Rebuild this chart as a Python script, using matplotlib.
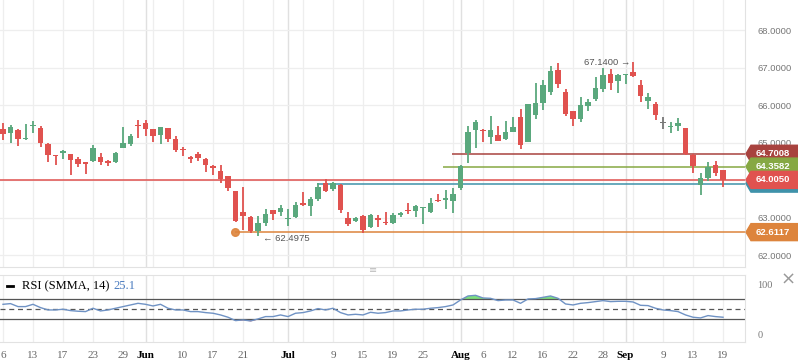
import numpy as np
import matplotlib
matplotlib.use("Agg")
from matplotlib import pyplot as plt
from matplotlib import transforms
from matplotlib.patches import Polygon
from matplotlib.lines import Line2D

# daily candles, one per trading day (index 0 = May 6)
opens = [65.36, 65.26, 65.33, 65.09, 65.44, 65.40, 64.96, 64.67, 64.73, 64.69,
         64.56, 64.47, 64.52, 64.61, 64.52, 64.47, 64.86, 64.97, 65.47, 65.52,
         65.36, 65.20, 65.39, 65.09, 64.82, 64.61, 64.70, 64.56, 64.38, 64.25,
         64.11, 63.71, 63.15, 63.02, 62.64, 62.86, 63.20, 63.15, 62.97, 63.02,
         63.39, 63.31, 63.50, 63.91, 63.75, 63.86, 63.00, 62.92, 63.04, 62.74,
         62.98, 62.86, 62.86, 63.06, 63.20, 63.18, 63.25, 63.16, 63.48, 63.48,
         63.45, 63.80, 64.71, 65.34, 65.31, 65.16, 65.20, 65.10, 65.29, 65.68,
         65.02, 65.74, 66.06, 66.36, 66.93, 66.36, 65.84, 65.64, 65.97, 66.15,
         66.42, 66.84, 66.64, 66.80, 66.88, 66.53, 66.12, 66.04, 65.52, 65.42,
         65.45, 65.39, 64.67, 63.88, 64.06, 64.40, 64.27]
highs = [65.53, 65.48, 65.36, 65.49, 65.57, 65.44, 64.98, 64.68, 64.81, 64.70,
         64.62, 64.49, 64.93, 64.73, 64.53, 64.76, 65.42, 65.22, 65.60, 65.60,
         65.37, 65.41, 65.39, 65.17, 64.88, 64.65, 64.76, 64.60, 64.40, 64.40,
         64.11, 63.71, 63.81, 63.04, 63.04, 63.24, 63.20, 63.34, 63.24, 63.42,
         63.67, 63.54, 63.91, 64.02, 63.94, 63.89, 63.15, 63.02, 63.06, 63.10,
         63.08, 63.15, 63.11, 63.16, 63.38, 63.33, 63.27, 63.52, 63.64, 63.73,
         63.80, 64.40, 65.45, 65.60, 65.36, 65.71, 65.45, 65.57, 65.69, 65.90,
         66.03, 66.59, 66.67, 67.04, 67.12, 66.42, 65.84, 66.22, 66.17, 66.75,
         66.98, 66.95, 66.84, 66.84, 67.14, 66.67, 66.31, 66.07, 65.68, 65.55,
         65.66, 65.39, 64.69, 64.19, 64.47, 64.51, 64.27]
lows = [65.07, 65.00, 64.92, 65.08, 65.26, 64.87, 64.48, 64.40, 64.57, 64.13,
        64.36, 64.16, 64.49, 64.41, 64.37, 64.46, 64.86, 64.90, 65.13, 65.17,
        65.02, 64.97, 65.02, 64.75, 64.64, 64.45, 64.52, 64.22, 64.14, 63.93,
        63.71, 62.88, 62.67, 62.60, 62.4975, 62.77, 62.93, 63.04, 62.77, 62.99,
        63.30, 63.05, 63.45, 63.68, 63.70, 63.13, 62.78, 62.88, 62.58, 62.71,
        62.76, 62.79, 62.84, 63.02, 63.10, 63.02, 62.84, 63.13, 63.41, 63.23,
        63.13, 63.73, 64.46, 64.86, 65.02, 64.97, 65.04, 65.07, 65.27, 64.82,
        65.02, 65.64, 65.88, 66.28, 66.45, 65.72, 65.45, 65.54, 65.85, 66.12,
        66.34, 66.41, 66.33, 66.57, 66.76, 66.09, 65.90, 65.60, 65.36, 65.26,
        65.31, 64.67, 64.18, 63.59, 63.98, 64.12, 63.82]
closes = [65.23, 65.41, 65.10, 65.11, 65.45, 65.00, 64.68, 64.65, 64.78, 64.53,
          64.44, 64.42, 64.85, 64.48, 64.46, 64.73, 65.00, 65.17, 65.45, 65.36,
          65.18, 65.41, 65.10, 64.80, 64.80, 64.56, 64.60, 64.41, 64.33, 64.02,
          63.78, 62.91, 63.04, 62.64, 62.85, 63.09, 63.10, 63.25, 62.98, 63.33,
          63.34, 63.49, 63.81, 63.72, 63.91, 63.20, 62.84, 62.98, 62.67, 63.08,
          62.93, 62.85, 63.07, 63.11, 63.17, 63.32, 63.26, 63.39, 63.43, 63.52,
          63.64, 64.37, 65.28, 65.55, 65.30, 65.33, 65.05, 65.28, 65.41, 64.94,
          66.03, 66.05, 66.53, 66.91, 66.57, 65.76, 65.62, 66.00, 66.08, 66.46,
          66.80, 66.59, 66.80, 66.81, 66.77, 66.25, 66.21, 65.73, 65.52, 65.43,
          65.52, 64.69, 64.37, 64.05, 64.36, 64.18, 64.005]

rsi = [59.9, 61.3, 55.3, 55.3, 59.9, 53.3, 48.6, 48.6, 50.0, 47.3,
       46.0, 45.3, 52.0, 46.6, 48.6, 52.0, 55.3, 58.6, 61.9, 59.9,
       56.6, 59.9, 52.0, 48.6, 48.6, 45.3, 45.3, 43.3, 42.0, 38.6,
       34.0, 27.3, 28.6, 26.6, 30.6, 35.3, 35.3, 38.6, 35.3, 42.0,
       43.3, 46.6, 51.3, 48.6, 52.0, 43.3, 38.6, 39.9, 38.6, 43.9,
       42.0, 43.3, 46.6, 46.6, 48.6, 50.0, 50.0, 52.0, 53.3, 55.3,
       58.6, 68.6, 76.6, 77.9, 72.6, 71.9, 67.3, 68.6, 68.6, 61.9,
       70.6, 71.3, 73.9, 76.6, 71.9, 60.6, 58.6, 61.9, 63.3, 65.3,
       67.3, 65.3, 65.9, 65.9, 64.6, 57.9, 57.3, 52.0, 48.6, 47.3,
       45.3, 38.6, 34.0, 32.6, 37.3, 35.3, 34.0]

# x axis labels (trading-day index)
tick_pos = [0, 4, 8, 12, 16, 19, 24, 28, 32, 38, 44, 48, 52, 56, 61, 64,
            68, 72, 76, 80, 83, 88, 92, 96]
tick_labels = ['6', '13', '17', '23', '29', 'Jun', '10', '17', '21', 'Jul',
               '9', '15', '19', '25', 'Aug', '6', '12', '16', '22', '28',
               'Sep', '9', '13', '19']
month_pos = [19, 38, 61, 83]
price_ticks = [62, 63, 64, 65, 66, 67, 68]
hidden_price_ticks = [64]  # covered by the last-price tag

# horizontal levels: (value, start index, colour, label shown)
levels = [
    (64.7008, 59.8, '#a8423e', '64.7008'),
    (64.3582, 58.7, '#86a843', '64.3582'),
    (63.905, 41.9, '#3f92aa', ''),
    (64.0050, -1, '#e0524f', '64.0050'),
    (62.6117, 30.9, '#dd843c', '62.6117'),
]

W, H = 798, 363
GREEN = '#5aa87d'
RED = '#e0524f'
GRID = '#eeeeee'
SANS = 'Liberation Sans'
SERIF = 'Liberation Serif'

fig = plt.figure(figsize=(W / 100, H / 100), dpi=100)
ax = fig.add_axes([0, 1 - 266.7 / H, 745 / W, 266.7 / H])
rax = fig.add_axes([0, 1 - 341.7 / H, 745 / W, 66.7 / H], sharex=ax)

xmin, xmax = -0.4, 98.93
ax.set_xlim(xmin, xmax)
ax.set_ylim(61.69, 68.8)
rax.set_ylim(-15, 118.6)

for a in (ax, rax):
    for s in a.spines.values():
        s.set_color('#e2e2e2')
        s.set_linewidth(0.8)
    a.spines['left'].set_visible(False)
    for xg in range(0, 99, 4):
        a.axvline(xg, color=GRID, lw=0.9, zorder=0)
    for xm in month_pos:
        a.axvline(xm, color='#e0e0e0', lw=1.0, zorder=0)
ax.spines['top'].set_visible(False)

for p in price_ticks:
    ax.axhline(p, color=GRID, lw=0.9, zorder=0)

# candles
x = np.arange(len(opens))
o = np.array(opens)
c = np.array(closes)
cols = np.where(c > o, GREEN, np.where(c < o, RED, '#777777'))
ax.vlines(x, lows, highs, colors=cols, lw=1.3, zorder=3)
body = np.maximum(np.abs(c - o), 0.025)
ax.bar(x, body, bottom=np.minimum(o, c), width=0.68, color=cols, zorder=4,
       linewidth=0)

# levels
for val, start, col, _ in levels:
    ax.hlines(val, start, xmax, colors=col, lw=1.1, zorder=2)
ax.plot([30.9], [62.6117], 'o', color='#dd843c', ms=5.5, zorder=5, alpha=0.9)

# hi / lo annotations
ax.text(83.6, 67.14, '67.1400 \u2192', ha='right', va='center', fontsize=6.8,
        color='#555555', family=[SANS, 'DejaVu Sans'])
ax.text(34.6, 62.44, '\u2190 62.4975', ha='left', va='center', fontsize=6.8,
        color='#555555', family=[SANS, 'DejaVu Sans'])

# price axis
ax.yaxis.tick_right()
ax.set_yticks(price_ticks)
ax.set_yticklabels(['' if p in hidden_price_ticks else '%.4f' % p
                    for p in price_ticks])
ax.tick_params(axis='y', length=0, pad=9, labelsize=6.8, labelcolor='#777777')
for t in ax.get_yticklabels():
    t.set_family(SANS)
ax.tick_params(axis='x', length=0, labelbottom=False)

# level tags on the price axis
tr = transforms.blended_transform_factory(fig.transFigure, ax.transData)
hh = 8.5 / 37.5
for val, _, col, lab in levels:
    x0, x1, x2 = 746 / W, 751 / W, 1.0
    poly = Polygon([(x0, val), (x1, val + hh), (x2, val + hh), (x2, val - hh),
                    (x1, val - hh)], closed=True, transform=tr, color=col,
                   clip_on=False, zorder=10)
    fig.add_artist(poly)
    if lab:
        fig.text(756 / W, val, lab, transform=tr, color='white', fontsize=6.8,
                 fontweight='bold', va='center', ha='left', zorder=11,
                 family=SANS)

# RSI panel
rax.plot(x, rsi, color='#6f92c4', lw=1.0, zorder=3)
r = np.array(rsi)
rax.fill_between(x, r, 70, where=r > 70, interpolate=True, color='#7de07d',
                 zorder=2, lw=0)
rax.fill_between(x, r, 30, where=r < 30, interpolate=True, color='#e06b6b',
                 zorder=2, lw=0)
rax.axhline(70, color='#555555', lw=0.9, zorder=2)
rax.axhline(30, color='#555555', lw=0.9, zorder=2)
rax.axhline(50, color='#555555', lw=0.9, ls=(0, (4, 3)), zorder=2)
rax.yaxis.tick_right()
rax.set_yticks([0, 100])
rax.set_yticklabels(['0', '100'])
rax.tick_params(axis='y', length=0, pad=9, labelsize=7.5, labelcolor='#777777')
for t in rax.get_yticklabels():
    t.set_family(SERIF)

rax.set_xticks(tick_pos)
rax.set_xticklabels(tick_labels)
rax.tick_params(axis='x', length=0, pad=7, labelsize=8, labelcolor='#666666')
for t, lab in zip(rax.get_xticklabels(), tick_labels):
    t.set_family(SERIF)
    if not lab.isdigit():
        t.set_color('black')
        t.set_fontweight('bold')

# RSI legend
fig.add_artist(Line2D([7 / W, 13 / W], [1 - 286 / H, 1 - 286 / H],
                      transform=fig.transFigure, color='black', lw=2))
fig.text(22 / W, 1 - 286 / H, 'RSI (SMMA, 14)', fontsize=9,
         family=SERIF, va='center', color='black')
fig.text(113 / W, 1 - 286 / H, '25.1', fontsize=9, family=SERIF,
         va='center', color='#4a7bbf')

# panel handle and close icon
fig.text(373 / W, 1 - 270.5 / H, '\u2261', fontsize=7, color='#bbbbbb',
         ha='center', va='center')
fig.text(788 / W, 1 - 280 / H, '\u00d7', fontsize=13, color='#999999',
         ha='center', va='center')

fig.savefig('out.png', dpi=100)
